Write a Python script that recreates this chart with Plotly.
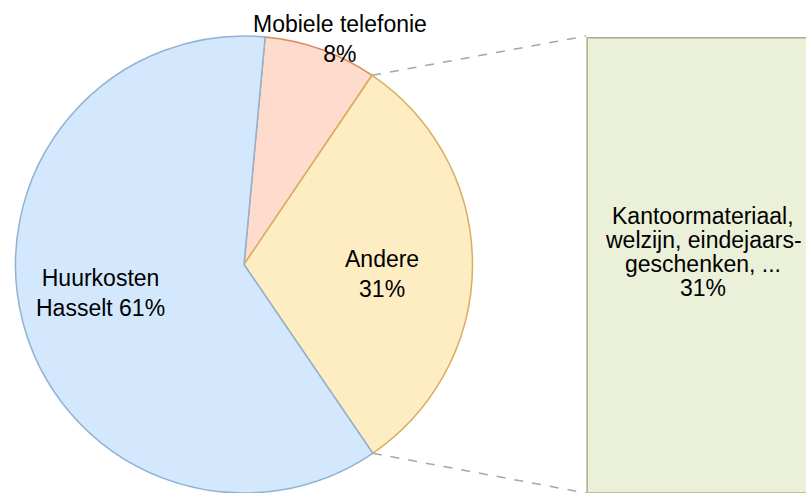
import math
import plotly.graph_objects as go

# Pie slices (clockwise from the top)
slice_labels = ["Mobiele telefonie", "Andere", "Huurkosten Hasselt"]
slice_values = [8, 31, 61]
slice_text = ["Mobiele telefonie<br>8%", "Andere<br>31%", "Huurkosten<br>Hasselt 61%"]

# Secondary bar (breakdown of "Andere")
bar_label = "Kantoormateriaal, welzijn, eindejaars-geschenken, ..."
bar_value = [31]
bar_text_lines = ["Kantoormateriaal,", "welzijn, eindejaars-", "geschenken, ...", "31%"]

W, H = 806, 493
FONT = dict(family="Liberation Sans, Arial, sans-serif", size=23, color="#000000")

# pie geometry (pixels)
pie_cx, pie_r = 244, 228.5
pie_dom_x = [(pie_cx - pie_r) / W, (pie_cx + pie_r) / W]
pie_dom_y = [0, 2 * pie_r / H]
pie_cy = H - pie_r  # screen y of centre
rotation = 5.3

fig = go.Figure()

fig.add_trace(
    go.Pie(
        labels=slice_labels,
        values=slice_values,
        sort=False,
        direction="clockwise",
        rotation=rotation,
        textinfo="none",
        hoverinfo="label+percent",
        domain=dict(x=pie_dom_x, y=pie_dom_y),
        marker=dict(
            colors=["#fddccd", "#feedc2", "#d3e8fc"],
            line=dict(color=["#e2875a", "#d8ae5c", "#8fb2d6"], width=1.5),
        ),
        showlegend=False,
    )
)

# Bar of pie
bar_x0 = 586
fig.add_trace(
    go.Bar(
        x=[0],
        y=bar_value,
        width=1,
        marker=dict(color="#ebf0d8", line=dict(color="#a9af86", width=1.5)),
        hoverinfo="y",
        showlegend=False,
    )
)
fig.update_xaxes(domain=[bar_x0 / W, 1], range=[-0.505, 0.44], visible=False)
fig.update_yaxes(domain=pie_dom_y, range=[0, bar_value[0] * 1.004], visible=False)

# Connector lines from the "Andere" slice to the bar
total = sum(slice_values)
a1 = math.radians(rotation + slice_values[0] / total * 360)
a2 = math.radians(rotation + (slice_values[0] + slice_values[1]) / total * 360)
for ang, ybar in [(a1, pie_dom_y[1]), (a2, 0)]:
    px = pie_cx + pie_r * math.sin(ang)
    py = pie_cy - pie_r * math.cos(ang)
    fig.add_shape(
        type="line",
        xref="paper", yref="paper",
        x0=px / W, y0=1 - py / H,
        x1=bar_x0 / W, y1=ybar,
        line=dict(color="#a6a6a6", width=1.5, dash="dash"),
    )

# Labels
label_pos = [(340, 39), (382, 274), (100, 293)]
for txt, (lx, ly) in zip(slice_text, label_pos):
    fig.add_annotation(
        x=lx / W, y=1 - ly / H, xref="paper", yref="paper",
        text=txt, showarrow=False, font=FONT,
        xanchor="center", yanchor="middle", align="center",
    )
# bar label, tighter line spacing
for i, line in enumerate(bar_text_lines):
    fig.add_annotation(
        x=703 / W, y=1 - (216 + 24 * i) / H, xref="paper", yref="paper",
        text=line, showarrow=False, font=FONT,
        xanchor="center", yanchor="middle",
    )

fig.update_layout(
    autosize=False,
    width=W,
    height=H,
    margin=dict(l=0, r=0, t=0, b=0),
    paper_bgcolor="white",
    plot_bgcolor="rgba(0,0,0,0)",
)

# no default page margin around the figure
fig.write_html(
    "out.html",
    config={"displayModeBar": False},
    post_script="document.body.style.margin='0';",
)
